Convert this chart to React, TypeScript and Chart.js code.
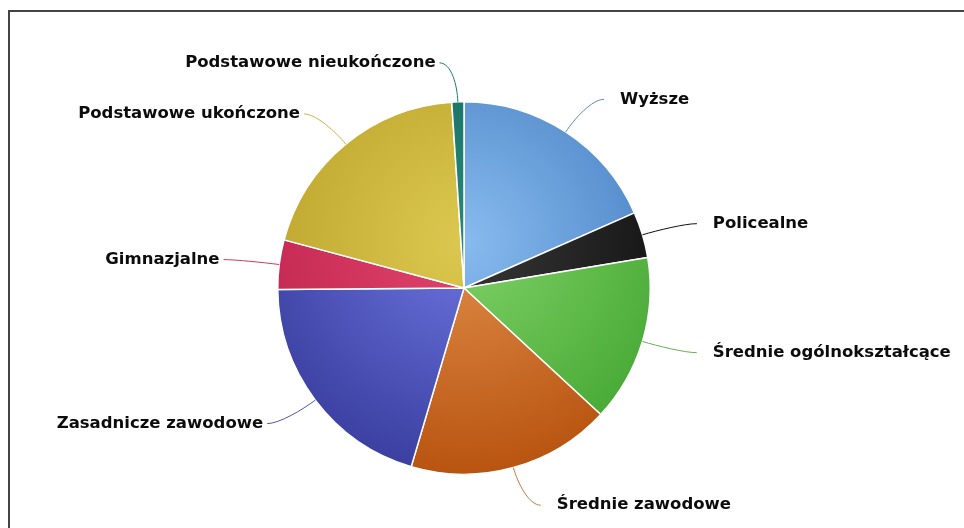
import React, { useEffect, useRef } from "react";
import { Chart, registerables } from "chart.js";

Chart.register(...registerables);

const categories = [
  "Wyższe",
  "Policealne",
  "Średnie ogólnokształcące",
  "Średnie zawodowe",
  "Zasadnicze zawodowe",
  "Gimnazjalne",
  "Podstawowe ukończone",
  "Podstawowe nieukończone",
];
const shares = [18.4, 4.0, 14.5, 17.7, 20.3, 4.3, 19.8, 1.05];

const lightColors = ["#88bbef", "#383838", "#80d267", "#e08c4a", "#6c74de", "#e2446c", "#dcc850", "#27897b"];
const darkColors = ["#4680c2", "#101010", "#46a834", "#b85410", "#3a3fa0", "#c02650", "#bba22a", "#156a5e"];
const connectorColors = ["#5a88b8", "#111111", "#68b050", "#c07a40", "#5055b0", "#c83a60", "#c8b440", "#1c7a6c"];

const LABEL_DISTANCE = 39;
const CONNECTOR_OFFSET = 17;
const TEXT_GAP_RIGHT = 16;
const TEXT_GAP_LEFT = 4;

const labelPlugin = {
  id: "pieLabels",
  afterDatasetsDraw(chart: any) {
    const meta = chart.getDatasetMeta(0);
    const ctx = chart.ctx;
    ctx.save();
    ctx.font = 'bold 16.5px "DejaVu Sans"';
    ctx.textBaseline = "middle";
    meta.data.forEach((arc: any, i: number) => {
      const p = arc.getProps(["x", "y", "startAngle", "endAngle", "outerRadius"], true);
      const cx = p.x, cy = p.y, r = p.outerRadius;
      const mid = (p.startAngle + p.endAngle) / 2;
      const L = r + LABEL_DISTANCE;
      const ux = Math.cos(mid), uy = Math.sin(mid);
      const ex = cx + ux * r, ey = cy + uy * r;
      const ly = cy + uy * L;
      const sign = ux < -0.001 ? -1 : 1;
      const dy = ly - cy;
      const ax = cx + sign * (Math.sqrt(Math.max(L * L - dy * dy, 0)) + CONNECTOR_OFFSET);
      ctx.strokeStyle = connectorColors[i];
      ctx.lineWidth = 1;
      ctx.beginPath();
      ctx.moveTo(ax, ly);
      ctx.bezierCurveTo(ax - sign * 12, ly, ex + ux * 16, ey + uy * 16, ex, ey);
      ctx.stroke();
      ctx.fillStyle = "#0c0c0c";
      ctx.textAlign = sign < 0 ? "right" : "left";
      ctx.fillText(categories[i], ax + sign * (sign < 0 ? TEXT_GAP_LEFT : TEXT_GAP_RIGHT), ly);
    });
    ctx.restore();
  },
};

export default function App() {
  const ref = useRef<HTMLCanvasElement>(null);
  useEffect(() => {
    if (!ref.current) return;
    const chart = new Chart(ref.current, {
      type: "pie",
      data: {
        labels: categories,
        datasets: [
          {
            data: shares,
            backgroundColor: (c: any) => {
              const ch = c.chart;
              const a = ch.chartArea;
              const i = c.dataIndex;
              if (!a) return lightColors[i];
              const cx = (a.left + a.right) / 2;
              const cy = (a.top + a.bottom) / 2;
              const r = Math.min(a.right - a.left, a.bottom - a.top) / 2;
              const g = ch.ctx.createRadialGradient(cx, cy - r * 0.25, 0, cx, cy - r * 0.25, r * 1.25);
              g.addColorStop(0, lightColors[i]);
              g.addColorStop(1, darkColors[i]);
              return g;
            },
            borderColor: "#ffffff",
            borderWidth: 1.5,
          },
        ],
      },
      options: {
        responsive: false,
        animation: false,
        layout: { padding: { left: 277, right: 313, top: 101, bottom: 53 } },
        plugins: {
          legend: { display: false },
          tooltip: { enabled: false },
        },
      },
      plugins: [labelPlugin],
    });
    return () => chart.destroy();
  }, []);
  return (
    <div style={{ position: "fixed", left: 0, top: 0, width: 964, height: 528, overflow: "hidden", background: "#fff" }}>
      <div
        style={{
          position: "absolute",
          left: 8,
          top: 10,
          width: 1200,
          height: 1200,
          borderTop: "2px solid #444",
          borderLeft: "2px solid #444",
        }}
      />
      <canvas ref={ref} width={964} height={528} style={{ position: "absolute", left: 0, top: 0 }} />
    </div>
  );
}
